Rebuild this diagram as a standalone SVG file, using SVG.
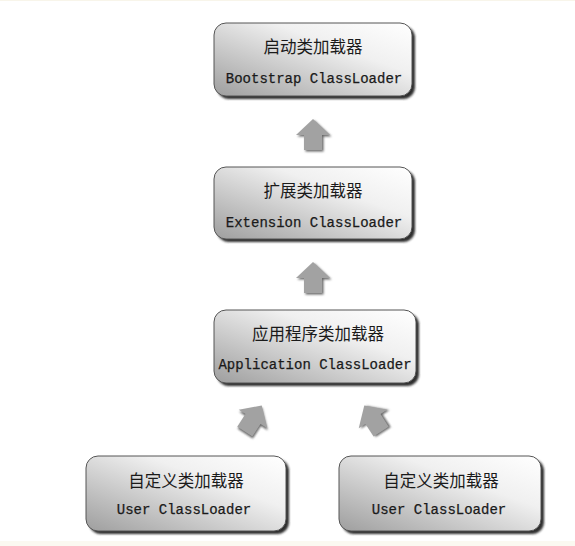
<svg xmlns="http://www.w3.org/2000/svg" width="575" height="546" viewBox="0 0 575 546">
<defs>
<linearGradient id="boxFill" x1="1" y1="0" x2="0" y2="1">
<stop offset="0" stop-color="#ffffff"/>
<stop offset="0.35" stop-color="#f0f0f0"/>
<stop offset="1" stop-color="#9e9e9e"/>
</linearGradient>
<filter id="blur" x="-10%" y="-10%" width="120%" height="120%">
<feGaussianBlur stdDeviation="1.1"/>
</filter>
<filter id="blurS" x="-20%" y="-20%" width="140%" height="140%">
<feGaussianBlur stdDeviation="0.8"/>
</filter>
<path id="arrowShape" d="M0,-16 L17,0 L9,0 L9,15 L-9,15 L-9,0 L-17,0 Z"/>
</defs>
<style>
.shadow{fill:#2e2e2e;filter:url(#blur);}
.box{fill:url(#boxFill);stroke:#555555;stroke-width:1;}
.zh{font-family:"Noto Sans CJK SC","Noto Sans",sans-serif;font-size:16.5px;fill:#1a1a1a;text-anchor:middle;}
.en{font-family:"Liberation Mono","DejaVu Sans Mono",monospace;font-size:14px;fill:#1a1a1a;stroke:#1a1a1a;stroke-width:0.25;text-anchor:middle;}
.arrow{fill:#a2a2a2;}
.arrowShadow{fill:#666;filter:url(#blurS);}
</style>
<rect width="575" height="546" fill="#ffffff"/>
<rect x="0" y="0" width="575" height="1" fill="#f8f5ea"/>
<rect x="0" y="541" width="575" height="5" fill="#fbf9f1"/>

<g id="connectors">
<g transform="translate(313,135)">
<use href="#arrowShape" class="arrowShadow" transform="translate(1.5,1.5)"/>
<use href="#arrowShape" class="arrow"/>
</g>
<g transform="translate(313,278)">
<use href="#arrowShape" class="arrowShadow" transform="translate(1.5,1.5)"/>
<use href="#arrowShape" class="arrow"/>
</g>
<g transform="translate(253,419) rotate(33)">
<use href="#arrowShape" class="arrowShadow" transform="translate(1.5,1.5)"/>
<use href="#arrowShape" class="arrow"/>
</g>
<g transform="translate(373,419) rotate(-33)">
<use href="#arrowShape" class="arrowShadow" transform="translate(1.5,1.5)"/>
<use href="#arrowShape" class="arrow"/>
</g>
</g>

<g id="bootstrap">
<rect class="shadow" x="217" y="26" width="198" height="73" rx="12"/>
<rect class="box" x="214" y="23" width="198" height="73" rx="12"/>
<text class="zh" x="313" y="53">启动类加载器</text>
<text class="en" x="314" y="83">Bootstrap ClassLoader</text>
</g>

<g id="extension">
<rect class="shadow" x="217" y="170" width="198" height="72" rx="12"/>
<rect class="box" x="214" y="167" width="198" height="72" rx="12"/>
<text class="zh" x="313" y="197">扩展类加载器</text>
<text class="en" x="314" y="227">Extension ClassLoader</text>
</g>

<g id="application">
<rect class="shadow" x="217" y="313" width="202" height="73" rx="12"/>
<rect class="box" x="214" y="310" width="202" height="73" rx="12"/>
<text class="zh" x="318" y="340">应用程序类加载器</text>
<text class="en" x="315" y="369">Application ClassLoader</text>
</g>

<g id="user1">
<rect class="shadow" x="89" y="459" width="200" height="75" rx="12"/>
<rect class="box" x="86" y="456" width="200" height="75" rx="12"/>
<text class="zh" x="186" y="487">自定义类加载器</text>
<text class="en" x="184" y="514">User ClassLoader</text>
</g>

<g id="user2">
<rect class="shadow" x="342" y="459" width="202" height="75" rx="12"/>
<rect class="box" x="339" y="456" width="202" height="75" rx="12"/>
<text class="zh" x="441" y="487">自定义类加载器</text>
<text class="en" x="439" y="514">User ClassLoader</text>
</g>
</svg>
